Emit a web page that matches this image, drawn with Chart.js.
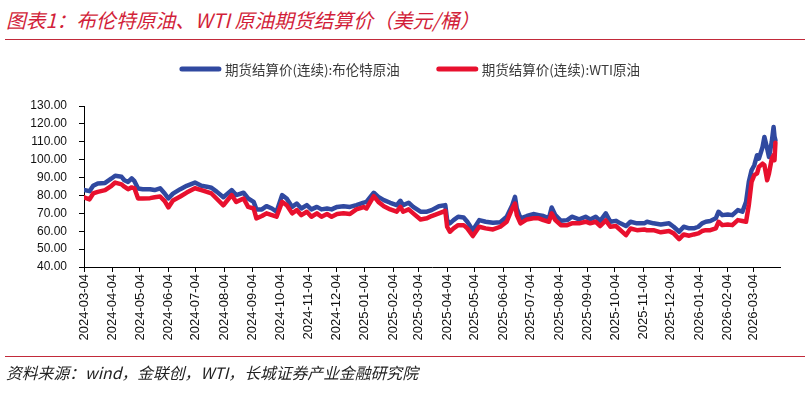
<!DOCTYPE html>
<html>
<head>
<meta charset="utf-8">
<script src="https://cdn.jsdelivr.net/npm/chart.js@4/dist/chart.umd.min.js"></script>
<style>
  html, body { margin:0; padding:0; background:#fff; }
  body { width:807px; height:393px; position:relative; overflow:hidden; }
  #title { position:absolute; left:6px; top:7px; font:italic 19.8px "Noto Sans CJK SC", sans-serif; color:#d21f3a; line-height:26px; white-space:nowrap; }
  .rule { position:absolute; left:5px; width:800px; height:1px; background:#c22a3a; }
  #source { position:absolute; left:6px; top:360px; font:italic 15.8px "Noto Sans CJK SC", sans-serif; color:#222; line-height:26px; white-space:nowrap; }
  #c { position:absolute; left:0; top:0; }
</style>
</head>
<body>
<div id="title">图表1：布伦特原油、WTI 原油期货结算价（美元/桶）</div>
<div class="rule" style="top:39px"></div>
<canvas id="c" width="807" height="393"></canvas>
<div class="rule" style="top:356px"></div>
<div id="source">资料来源：wind，金联创，WTI，长城证券产业金融研究院</div>
<script>
const seriesNames = ['期货结算价(连续):布伦特原油', '期货结算价(连续):WTI原油'];
const dates = [
'2024-03-04','2024-03-10','2024-03-14','2024-03-19','2024-03-27','2024-04-03','2024-04-07','2024-04-14','2024-04-17','2024-04-21',
'2024-04-25','2024-04-28','2024-05-02','2024-05-07','2024-05-15','2024-05-20','2024-05-26','2024-05-31','2024-06-04','2024-06-09',
'2024-06-17','2024-06-24','2024-07-03','2024-07-10','2024-07-16','2024-07-21','2024-07-27','2024-08-03','2024-08-12','2024-08-17',
'2024-08-25','2024-08-30','2024-09-05','2024-09-08','2024-09-14','2024-09-19','2024-09-25','2024-09-30','2024-10-06','2024-10-11',
'2024-10-17','2024-10-22','2024-10-27','2024-11-02','2024-11-07','2024-11-13','2024-11-18','2024-11-24','2024-11-29','2024-12-05',
'2024-12-12','2024-12-19','2024-12-26','2025-01-03','2025-01-06','2025-01-14','2025-01-19','2025-01-25','2025-02-01','2025-02-08',
'2025-02-12','2025-02-15','2025-02-21','2025-02-26','2025-03-06','2025-03-13','2025-03-18','2025-03-26','2025-04-02','2025-04-04',
'2025-04-07','2025-04-11','2025-04-16','2025-04-22','2025-04-26','2025-05-02','2025-05-09','2025-05-16','2025-05-24','2025-06-01',
'2025-06-08','2025-06-14','2025-06-17','2025-06-19','2025-06-23','2025-06-30','2025-07-07','2025-07-13','2025-07-18','2025-07-24',
'2025-07-27','2025-07-31','2025-08-06','2025-08-13','2025-08-18','2025-08-26','2025-09-02','2025-09-07','2025-09-13','2025-09-18',
'2025-09-24','2025-09-29','2025-10-05','2025-10-10','2025-10-16','2025-10-21','2025-10-28','2025-11-05','2025-11-08','2025-11-15',
'2025-11-23','2025-12-02','2025-12-07','2025-12-13','2025-12-18','2025-12-24','2025-12-29','2026-01-03','2026-01-07','2026-01-11',
'2026-01-16','2026-01-22','2026-01-25','2026-01-29','2026-02-04','2026-02-09','2026-02-15','2026-02-20','2026-02-24','2026-02-27',
'2026-03-02','2026-03-05','2026-03-08','2026-03-10','2026-03-14','2026-03-16','2026-03-19','2026-03-21','2026-03-24','2026-03-26',
'2026-03-27','2026-03-28'
];
const brent = [
83.0,82.4,85.4,86.7,87.0,89.5,91.0,90.4,88.5,87.6,
89.5,88.0,83.9,83.5,83.5,83.0,84.0,81.1,78.3,81.0,
83.5,85.4,87.2,85.4,84.9,84.3,82.0,79.0,83.0,80.2,
81.5,78.3,76.4,72.2,72.2,74.0,72.7,70.9,80.2,78.3,
73.6,75.5,72.7,74.6,72.2,73.6,72.2,72.7,72.2,73.6,
74.0,73.6,74.6,76.0,76.4,81.5,79.2,77.4,75.9,74.6,
77.0,74.6,75.9,73.6,70.9,70.9,71.8,74.0,74.6,66.2,
64.4,66.2,68.1,67.7,65.3,60.6,66.2,65.3,64.7,65.0,
68.1,74.6,79.2,72.7,67.2,68.5,69.6,69.0,68.5,67.2,
73.3,69.0,65.8,66.2,68.1,66.6,68.1,66.6,68.1,65.8,
70.0,65.3,65.8,64.4,62.9,65.3,64.4,64.4,65.3,64.4,
63.8,64.4,62.5,59.7,62.5,61.6,61.6,62.5,64.4,65.3,
65.7,67.2,70.9,69.0,69.4,69.0,71.8,70.9,76.4,87.6,
94.1,96.9,102.5,100.6,107.1,112.7,106.2,101.5,109.9,118.3,
113.0,110.9
];
const wti = [
78.9,77.8,81.1,82.0,83.0,85.4,87.2,86.2,84.9,83.5,
84.5,84.0,78.3,78.3,78.5,79.0,79.4,76.8,73.3,77.2,
79.4,81.6,84.0,83.0,82.0,81.1,78.0,74.5,80.2,76.4,
78.3,73.6,72.7,67.2,68.5,70.0,69.0,68.1,76.4,74.6,
70.0,71.8,69.0,70.9,68.1,70.0,68.1,69.6,68.1,69.6,
70.0,69.6,72.2,73.5,72.7,79.6,76.4,74.0,72.2,70.9,
73.6,70.9,72.2,70.0,66.6,67.2,68.5,70.0,71.4,62.5,
59.7,61.6,63.4,63.4,61.6,57.3,62.5,61.6,61.0,62.5,
65.3,72.7,75.5,69.0,64.4,66.6,67.2,67.2,66.2,65.3,
70.0,66.2,63.4,63.4,64.4,64.4,65.3,64.4,65.3,62.9,
66.0,62.5,62.9,60.6,57.8,61.5,60.6,61.0,60.5,60.6,
59.4,60.1,58.8,55.6,58.2,57.5,58.2,58.8,60.1,60.6,
60.6,61.6,65.3,63.4,63.8,63.4,66.2,65.7,65.3,74.6,
87.6,91.3,92.3,96.0,97.8,96.9,88.5,92.3,100.6,102.5,
99.7,109.5
];
const tickDates = [
'2024-03-04','2024-04-04','2024-05-04','2024-06-04','2024-07-04','2024-08-04','2024-09-04','2024-10-04','2024-11-04','2024-12-04',
'2025-01-04','2025-02-04','2025-03-04','2025-04-04','2025-05-04','2025-06-04','2025-07-04','2025-08-04','2025-09-04','2025-10-04',
'2025-11-04','2025-12-04','2026-01-04','2026-02-04','2026-03-04'
];
const axisStart = '2024-03-04';
const axisEnd = '2026-04-02';
const yMin = 40, yMax = 130, yStep = 10;

function dayOffset(s) {
  const p = s.split('-').map(Number);
  const q = axisStart.split('-').map(Number);
  return Math.round((Date.UTC(p[0], p[1]-1, p[2]) - Date.UTC(q[0], q[1]-1, q[2])) / 86400000);
}
const toPoints = vals => dates.map((d, i) => ({ x: dayOffset(d), y: vals[i] }));

const legendPlugin = {
  id: 'customLegend',
  afterDraw(chart) {
    const ctx = chart.ctx;
    ctx.save();
    ctx.font = '13.5px "Noto Sans CJK SC", sans-serif';
    const items = chart.data.datasets.map(ds => ({ label: ds.label, color: ds.borderColor, w: ctx.measureText(ds.label).width }));
    const lineW = 41, gapText = 4, gapItem = 37;
    let total = 0;
    items.forEach((it, i) => { total += lineW + gapText + it.w + (i ? gapItem : 0); });
    let x = 410 - total / 2;
    const y = 69;
    items.forEach(it => {
      ctx.strokeStyle = it.color;
      ctx.lineWidth = 5;
      ctx.lineCap = 'round';
      ctx.beginPath();
      ctx.moveTo(x + 2, y);
      ctx.lineTo(x + lineW - 2, y);
      ctx.stroke();
      x += lineW + gapText;
      ctx.fillStyle = '#3a3a3a';
      ctx.textBaseline = 'middle';
      ctx.textAlign = 'left';
      ctx.fillText(it.label, x, y + 1);
      x += it.w + gapItem;
    });
    ctx.restore();
  }
};

new Chart(document.getElementById('c'), {
  type: 'line',
  data: {
    datasets: [
      { label: seriesNames[0], data: toPoints(brent), borderColor: '#3049a0', backgroundColor: '#3049a0', borderWidth: 4.5, pointRadius: 0, tension: 0, borderJoinStyle: 'round', borderCapStyle: 'round', order: 1 },
      { label: seriesNames[1], data: toPoints(wti), borderColor: '#e8102e', backgroundColor: '#e8102e', borderWidth: 4.5, pointRadius: 0, tension: 0, borderJoinStyle: 'round', borderCapStyle: 'round', order: 0 }
    ]
  },
  options: {
    responsive: false,
    animation: false,
    devicePixelRatio: 1,
    layout: { padding: { left: 0, right: 27, top: 106, bottom: 0 } },
    plugins: { legend: { display: false }, tooltip: { enabled: false } },
    scales: {
      x: {
        type: 'linear',
        min: 0,
        max: dayOffset(axisEnd),
        afterBuildTicks: scale => { scale.ticks = tickDates.map(s => ({ value: dayOffset(s) })); },
        afterFit: scale => { scale.height = 126; },
        grid: { drawOnChartArea: false, drawTicks: true, tickLength: 5, color: '#000', lineWidth: 1 },
        border: { color: '#000', width: 1 },
        ticks: {
          autoSkip: false, maxRotation: 90, minRotation: 90, padding: 2,
          color: '#111', font: { family: 'Liberation Sans, Arial', size: 13 },
          callback: (v, i) => tickDates[i]
        }
      },
      y: {
        min: yMin, max: yMax,
        afterFit: scale => { scale.width = 84; },
        grid: { drawOnChartArea: false, drawTicks: true, tickLength: 5, color: '#000', lineWidth: 1 },
        border: { color: '#000', width: 1 },
        ticks: {
          stepSize: yStep, padding: 12, color: '#111',
          font: { family: 'Liberation Sans, Arial', size: 12 },
          callback: v => v.toFixed(2)
        }
      }
    }
  },
  plugins: [legendPlugin]
});
</script>
</body>
</html>
